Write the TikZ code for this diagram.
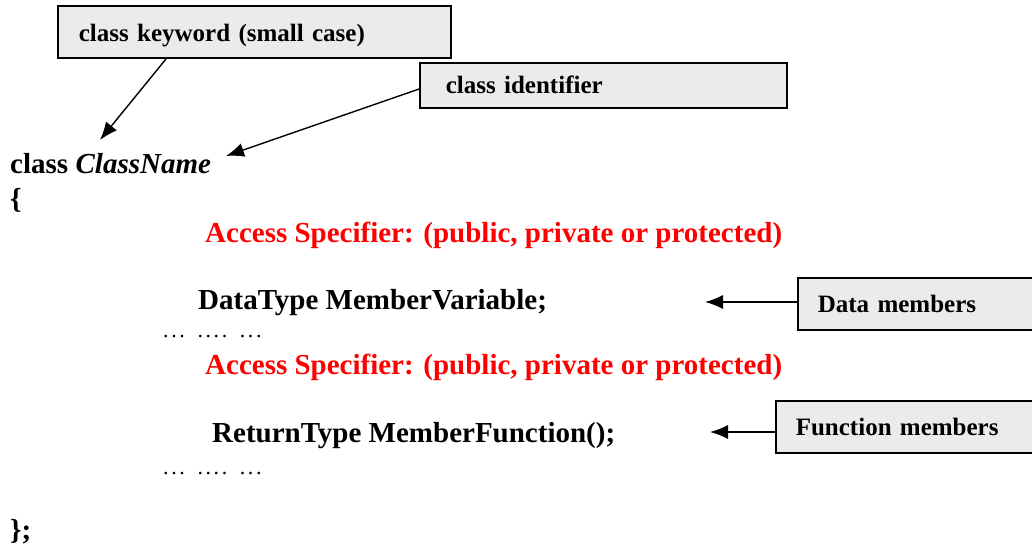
\documentclass[tikz,border=0pt]{standalone}
\usepackage{fontspec}
\setmainfont{Liberation Serif}
\usetikzlibrary{arrows.meta,calc,positioning}

\newcommand{\pdot}{.\kern2.6pt}

\tikzset{
  notebox/.style={draw, line width=1.6pt, fill=black!8, anchor=north west,
    font=\fontsize{25}{28}\selectfont\bfseries, align=left, inner ysep=0pt},
  codeline/.style={anchor=base west, inner sep=0pt,
    font=\fontsize{29}{33}\selectfont\bfseries},
  accessline/.style={codeline, text=red},
  dotline/.style={anchor=base west, inner sep=0pt, font=\fontsize{22}{26}\selectfont},
  pointer/.style={line width=1.4pt, -{Latex[length=18pt,width=14pt]}}
}

\begin{document}
\begin{tikzpicture}[x=1pt, y=-1pt]
\useasboundingbox (0,0) rectangle (1032,548);
\clip (0,0) rectangle (1032,548);
% label boxes
\node[notebox, minimum width=393pt, minimum height=52pt, inner xsep=21pt,
  text width=351pt, text height=25pt] (kwbox) at (57,5) {class keyword (small case)};
\node[notebox, minimum width=367pt, minimum height=45pt, inner xsep=26pt,
  text width=315pt] (idbox) at (419,62) {class identifier};
\node[notebox, minimum width=250pt, minimum height=52pt, inner xsep=20pt,
  text width=210pt] (databox) at (797,277) {Data members};
\node[notebox, minimum width=270pt, minimum height=52pt, inner xsep=20pt,
  text width=230pt] (funcbox) at (775,400) {Function members};
% code skeleton
\node[codeline] (kw) at (10,173) {class};
\node[codeline, font=\fontsize{29}{33}\selectfont\bfseries\itshape,
  right=7pt of kw.base east, anchor=base west] (cname) {ClassName};
\node[codeline] (open) at (10,208) {\{};
\node[accessline] (acc1) at (205,242) {Access Specifier: (public, private or protected)};
\node[codeline] (var) at (198,309) {DataType MemberVariable;};
\node[dotline] (dots1) at (163,337) {\pdot\pdot\pdot\hspace{10pt}\pdot\pdot\pdot\pdot\hspace{10pt}\pdot\pdot\pdot};
\node[accessline] (acc2) at (205,374) {Access Specifier: (public, private or protected)};
\node[codeline] (fun) at (212,442) {ReturnType MemberFunction();};
\node[dotline] (dots2) at (163,474) {\pdot\pdot\pdot\hspace{10pt}\pdot\pdot\pdot\pdot\hspace{10pt}\pdot\pdot\pdot};
\node[codeline] (close) at (10,539) {\};};
% arrow tips
\coordinate (kwtip) at (100,140);
\coordinate (idtip) at (226,156);
\coordinate (datatip) at (705,302);
\coordinate (functip) at (710,432);
% pointers
\draw[pointer] ($(kwbox.south west)!0.277!(kwbox.south east)$) -- (kwtip);
\draw[pointer] ($(idbox.north west)!0.58!(idbox.south west)$) -- (idtip);
\draw[pointer] (databox.west |- datatip) -- (datatip);
\draw[pointer] (funcbox.west |- functip) -- (functip);
\end{tikzpicture}
\end{document}
